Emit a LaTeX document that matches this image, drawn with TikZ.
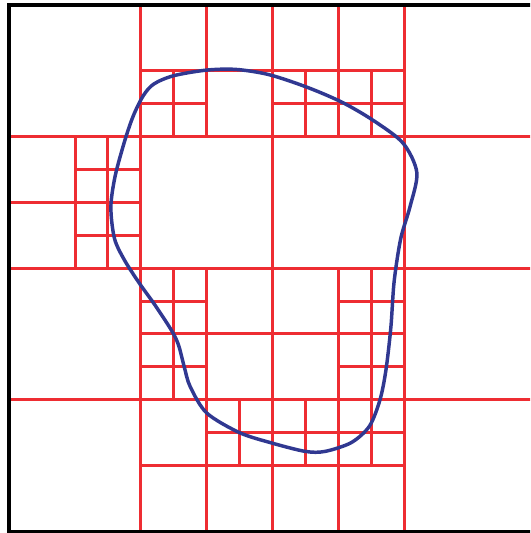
\documentclass[tikz,border=0pt]{standalone}
\usepackage{tikz}

\definecolor{qred}{RGB}{238,45,50}
\definecolor{qblue}{RGB}{48,56,145}

\begin{document}
\begin{tikzpicture}[
		x=0.5cm, y=-0.5cm,
		qt/.style={draw=qred, line width=1.3pt},
		fr/.style={draw=black, line width=1.5pt},
		crv/.style={draw=qblue, line width=1.5pt},
		]
		
		\useasboundingbox (-0.28,-0.15) rectangle (15.83,16.05);
		\clip (-0.28,-0.15) rectangle (15.83,16.05);
		
		%Grid
		\foreach \k in {4,8,12}{
			\draw[qt]	(\k,0)	--	(\k,16);
			\draw[qt]	(0,\k)	--	(16,\k);
		}
		\draw[qt]	(6,0)	--	(6,4)	(6,8)	--	(6,16);
		\draw[qt]	(10,0)	--	(10,4)	(10,8)	--	(10,16);
		\draw[qt]	(5,2)	--	(5,4)	(5,8)	--	(5,12);
		\draw[qt]	(9,2)	--	(9,4)	(9,12)	--	(9,14);
		\draw[qt]	(11,2)	--	(11,4)	(11,8)	--	(11,14);
		\draw[qt]	(2,4)	--	(2,8);
		\draw[qt]	(3,4)	--	(3,8);
		\draw[qt]	(7,12)	--	(7,14);
		
		\draw[qt]	(4,2)	--	(12,2);
		\draw[qt]	(4,3)	--	(6,3)	(8,3)	--	(12,3);
		\draw[qt]	(0,6)	--	(4,6);
		\draw[qt]	(2,5)	--	(4,5);
		\draw[qt]	(2,7)	--	(4,7);
		\draw[qt]	(4,9)	--	(6,9)	(10,9)	--	(12,9);
		\draw[qt]	(4,10)	--	(12,10);
		\draw[qt]	(4,11)	--	(6,11)	(10,11)	--	(12,11);
		\draw[qt]	(6,13)	--	(12,13);
		\draw[qt]	(4,14)	--	(12,14);
		
		%Curve
		\draw[crv]	plot[smooth cycle] coordinates {
			(6.9,1.96) (7.9,2.12) (9.05,2.5) (10.1,2.95) (11.05,3.5)
			(11.97,4.2) (12.39,5.1) (12.18,6.14) (11.9,7.1) (11.7,8.4)
			(11.6,9.8) (11.45,11.1) (11.27,12.0) (10.95,12.8) (10.4,13.3)
			(9.6,13.57) (9.0,13.57) (8.0,13.32) (7.0,13.0) (6.0,12.4)
			(5.5,11.6) (5.32,11.0) (5.15,10.35) (4.95,9.92) (4.45,9.15)
			(3.95,8.45) (3.5,7.75) (3.2,7.1) (3.09,6.15) (3.22,5.2)
			(3.52,4.1) (3.78,3.35) (4.08,2.75) (4.4,2.4) (5.0,2.15)
			(6.0,1.98)};
		
		%Frame
		\draw[fr]	(0,0)	rectangle	(16,16);
	\end{tikzpicture}
\end{document}
